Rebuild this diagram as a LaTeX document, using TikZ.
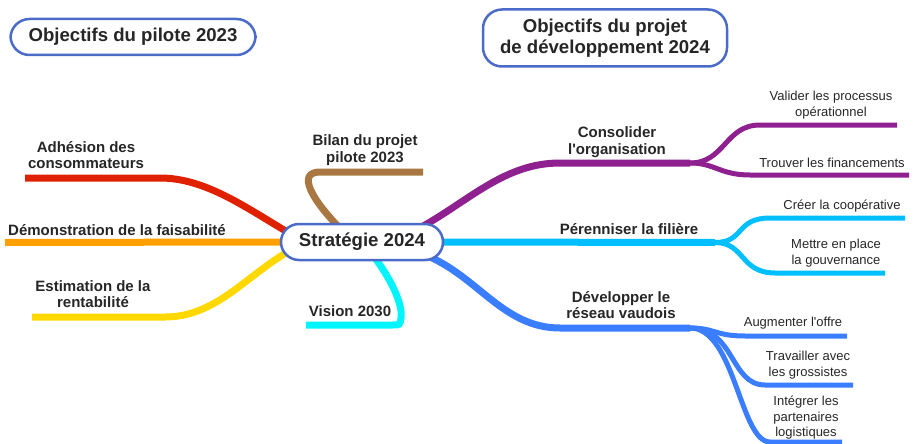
\documentclass[tikz,border=0pt]{standalone}
\usepackage{fontspec}
\setmainfont{Liberation Sans}
\usetikzlibrary{backgrounds}
\definecolor{boxblue}{HTML}{4A6CC8}
\definecolor{txt}{HTML}{262626}
\definecolor{cRed}{HTML}{E02100}
\definecolor{cOrange}{HTML}{FFA000}
\definecolor{cYellow}{HTML}{FFD800}
\definecolor{cBrown}{HTML}{A97842}
\definecolor{cCyan}{HTML}{00F5FF}
\definecolor{cPurple}{HTML}{8E2090}
\definecolor{cSky}{HTML}{00BFFF}
\definecolor{cBlue}{HTML}{3A7DFF}
\tikzstyle{title}=[draw=boxblue, line width=2.5pt, rounded corners=19pt, fill=white, align=center, text=txt, font=\fontsize{18.6}{21}\selectfont\bfseries]
\tikzstyle{topic}=[align=center, inner sep=0pt, text=txt, font=\fontsize{15}{16.5}\selectfont\bfseries]
\tikzstyle{leaf}=[align=center, inner sep=0pt, text=txt, font=\fontsize{13}{15.5}\selectfont]
\tikzstyle{branch}=[line width=7pt, shorten <=-9pt]
\tikzstyle{twig}=[line width=5pt]

\begin{document}
\begin{tikzpicture}[x=1pt, y=-1pt]
\useasboundingbox (0,0) rectangle (915,444);

\node (p23) at (133,37) [title, minimum width=245pt, minimum height=36pt] {Objectifs du pilote 2023};
\node (d24) at (605,38) [title, minimum width=244pt, minimum height=57pt] {Objectifs du projet\\de développement 2024};
\node (strat) at (362,242) [title, rounded corners=18pt, minimum width=162pt, minimum height=36pt] {Stratégie 2024};

\node (adh) at (86,155) [topic]      {Adhésion des\\consommateurs};
\node (demo) at (117,230) [topic]    {Démonstration de la faisabilité};
\node (esti) at (93,294) [topic]     {Estimation de la\\rentabilité};
\node (bilan) at (365,150) [topic]   {Bilan du projet\\pilote 2023};
\node (vision) at (350,311) [topic]  {Vision 2030};
\node (conso) at (617,142) [topic]   {Consolider\\l\textquotesingle organisation};
\node (peren) at (629,229) [topic]   {Pérenniser la filière};
\node (dev) at (621,305) [topic]     {Développer le\\réseau vaudois};

\node (valid) at (831,105) [leaf]    {Valider les processus\\opérationnel};
\node (finan) at (832,163) [leaf]    {Trouver les financements};
\node (coop) at (842,206) [leaf]     {Créer la coopérative};
\node (gouv) at (836,253) [leaf]     {Mettre en place\\la gouvernance};
\node (offre) at (793,323) [leaf]    {Augmenter l\textquotesingle offre};
\node (gross) at (808,365) [leaf]    {Travailler avec\\les grossistes};
\node (parten) at (806,418) [leaf]   {Intégrer les\\partenaires\\logistiques};

\coordinate (adh-e) at (25,178);
\coordinate (demo-e) at (5,242.5);
\coordinate (esti-e) at (32,317);
\coordinate (bilan-e) at (423,172);
\coordinate (vision-e) at (306,325);
\coordinate (conso-e) at (690,163);
\coordinate (peren-e) at (715,242.5);
\coordinate (dev-e) at (690,328);
\coordinate (valid-e) at (897,125);
\coordinate (finan-e) at (909,175);
\coordinate (coop-e) at (905,218);
\coordinate (gouv-e) at (885,273);
\coordinate (offre-e) at (847,336);
\coordinate (gross-e) at (853,385);
\coordinate (parten-e) at (842,442);

\begin{scope}[on background layer]
% left side
\draw[branch, cRed] (strat.170) .. controls (245,207) and (205,178) .. (160,178) -- (adh-e);
\draw[branch, cOrange] (strat.west) -- (demo-e);
\draw[branch, cYellow] (strat.190) .. controls (245,277) and (215,317) .. (165,317) -- (esti-e);
\draw[branch, cBrown] (strat.145) .. controls (312,200) and (296,172) .. (320,172) -- (bilan-e);
\draw[branch, cCyan] (strat.-51) .. controls (392,280) and (403,305) .. (401,318) .. controls (400,325) .. (392,325) -- (vision-e);

% right side
\draw[branch, cPurple] (strat.16) .. controls (470,200) and (505,163) .. (560,163) -- (conso-e);
\draw[twig, cPurple] (conso-e) .. controls (725,163) and (725,125) .. (760,125) -- (valid-e);
\draw[twig, cPurple] (conso-e) .. controls (715,163) and (720,175) .. (750,175) -- (finan-e);

\draw[branch, cSky] (strat.east) -- (peren-e);
\draw[twig, cSky] (peren-e) .. controls (745,242.5) and (735,218) .. (770,218) -- (coop-e);
\draw[twig, cSky] (peren-e) .. controls (745,242.5) and (740,273) .. (775,273) -- (gouv-e);

\draw[branch, cBlue] (strat.-14) .. controls (480,280) and (505,328) .. (560,328) -- (dev-e);
\draw[twig, cBlue] (dev-e) .. controls (715,328) and (715,336) .. (745,336) -- (offre-e);
\draw[twig, cBlue] (dev-e) .. controls (735,328) and (730,385) .. (765,385) -- (gross-e);
\draw[twig, cBlue] (dev-e) .. controls (735,328) and (740,442) .. (770,442) -- (parten-e);
\end{scope}
\end{tikzpicture}
\end{document}
